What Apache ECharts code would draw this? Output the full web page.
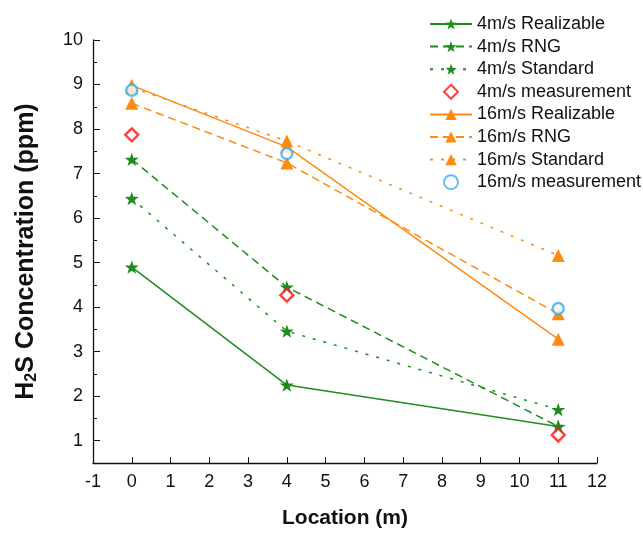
<!DOCTYPE html>
<html>
<head>
<meta charset="utf-8">
<script src="https://cdn.jsdelivr.net/npm/echarts@6/dist/echarts.min.js"></script>
<style>
  html, body { margin: 0; padding: 0; background: #fff; }
  #chart { width: 643px; height: 534px; }
</style>
</head>
<body>
<div id="chart"></div>
<script>
// positions (m)
const locations = [0, 4, 11];

// 4 m/s
const v4Realizable = [4.9, 2.25, 1.32];
const v4RNG = [7.32, 4.45, 1.32];
const v4Standard = [6.44, 3.46, 1.7];
const v4Measured = [7.87, 4.27, 1.13];

// 16 m/s
const v16Realizable = [8.98, 7.6, 3.28];
const v16RNG = [8.58, 7.24, 3.85];
const v16Standard = [8.93, 7.73, 5.16];
const v16Measured = [8.87, 7.45, 3.97];

const yTicks = [1, 2, 3, 4, 5, 6, 7, 8, 9, 10];
const yMinorTicks = [1.5, 2.5, 3.5, 4.5, 5.5, 6.5, 7.5, 8.5, 9.5];

const GREEN = "#1f8c1f";
const ORANGE = "#ff8a10";
const RED = "#ff1010";
const BLUE = "#3aaef0";

const STAR = "path://M0,-10L2.35,-3.24L9.51,-3.09L3.8,1.24L5.88,8.09L0,4L-5.88,8.09L-3.8,1.24L-9.51,-3.09L-2.35,-3.24Z";
const DIAMOND = "path://M0,-10L10,0L0,10L-10,0Z";

const pairs = (ys) => locations.map((x, i) => [x, ys[i]]);

// une série ligne + marqueur
function lineSeries(name, ys, color, type, symbol, size) {
  return {
    name,
    type: "line",
    data: pairs(ys),
    symbol,
    symbolSize: size,
    symbolKeepAspect: true,
    showSymbol: true,
    lineStyle: { color, width: 1.5, type },
    itemStyle: { color },
    z: 3,
  };
}

function measSeries(name, ys, color, symbol, size) {
  return {
    name,
    type: "scatter",
    data: pairs(ys),
    symbol,
    symbolSize: size,
    symbolKeepAspect: true,
    itemStyle: { color: "#fff", borderColor: color, borderWidth: 2.4 },
    z: 4,
  };
}

const font = "Liberation Sans, Arial, sans-serif";

const chart = echarts.init(document.getElementById("chart"));

chart.setOption({
  animation: false,
  backgroundColor: "#fff",
  textStyle: { fontFamily: font },
  grid: { left: 93, right: 46, top: 40, bottom: 67 },
  legend: {
    orient: "vertical",
    left: 424,
    top: 9,
    itemWidth: 42,
    itemHeight: 14,
    itemGap: 2.6,
    symbolKeepAspect: true,
    textStyle: { fontSize: 18, lineHeight: 20, color: "#111", fontFamily: font },
  },
  xAxis: {
    type: "value",
    min: -1,
    max: 12,
    interval: 1,
    name: "Location (m)",
    nameLocation: "middle",
    nameGap: 45,
    nameTextStyle: { fontSize: 21, fontWeight: "bold", color: "#111" },
    axisLine: { onZero: false, lineStyle: { color: "#111", width: 1.3 } },
    axisTick: { inside: true, length: 6, lineStyle: { color: "#111" } },
    axisLabel: { fontSize: 18, color: "#111", margin: 10 },
    splitLine: { show: false },
  },
  yAxis: [
    {
      type: "value",
      min: 0.5,
      max: 10,
      name: "{b|H}{s|2}{b|S Concentration (ppm)}",
      nameLocation: "middle",
      nameGap: 53,
      nameTextStyle: {
        rich: {
          b: { fontSize: 25, fontWeight: "bold", color: "#111", lineHeight: 28 },
          s: { fontSize: 16, fontWeight: "bold", color: "#111", lineHeight: 28, verticalAlign: "bottom", padding: [10, 0, 0, 0] },
        },
      },
      axisLine: { show: true, onZero: false, lineStyle: { color: "#111", width: 1.3 } },
      axisTick: { inside: true, length: 7, customValues: yTicks, lineStyle: { color: "#111" } },
      axisLabel: { fontSize: 18, color: "#111", margin: 10, customValues: yTicks },
      splitLine: { show: false },
    },
    {
      type: "value",
      min: 0.5,
      max: 10,
      position: "left",
      axisLine: { show: false, onZero: false },
      axisTick: { show: true, inside: true, length: 4, customValues: yMinorTicks, lineStyle: { color: "#111" } },
      axisLabel: { show: false },
      splitLine: { show: false },
    },
  ],
  series: [
    lineSeries("4m/s Realizable", v4Realizable, GREEN, "solid", STAR, 14),
    lineSeries("4m/s RNG", v4RNG, GREEN, [8, 5], STAR, 14),
    lineSeries("4m/s Standard", v4Standard, GREEN, [3, 8], STAR, 14),
    measSeries("4m/s measurement", v4Measured, RED, DIAMOND, 13),
    lineSeries("16m/s Realizable", v16Realizable, ORANGE, "solid", "triangle", 13),
    lineSeries("16m/s RNG", v16RNG, ORANGE, [8, 5], "triangle", 13),
    lineSeries("16m/s Standard", v16Standard, ORANGE, [3, 8], "triangle", 13),
    measSeries("16m/s measurement", v16Measured, BLUE, "circle", 11),
  ],
});
</script>
</body>
</html>
